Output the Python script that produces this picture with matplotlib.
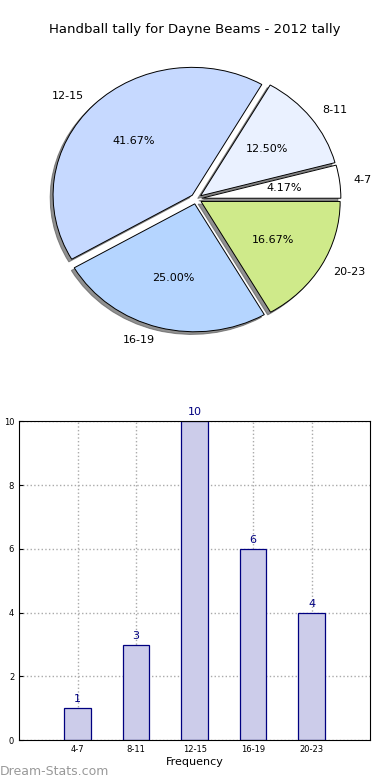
import matplotlib
matplotlib.use("Agg")
import matplotlib.pyplot as plt
import numpy as np

categories = ["4-7", "8-11", "12-15", "16-19", "20-23"]
values = [1, 3, 10, 6, 4]
pie_colors = ["#ffffff", "#eaf1ff", "#c6d9ff", "#b5d5ff", "#cfea8a"]
title = "Handball tally for Dayne Beams - 2012 tally"

fig = plt.figure(figsize=(3.9, 7.8), dpi=100)

# Pie
ax1 = fig.add_axes([0.057, 0.54, 0.892, 0.41])
wedges, texts, autotexts = ax1.pie(values, labels=categories, colors=pie_colors,
        explode=[0.04] * 5, autopct="%1.2f%%",
        shadow={"ox": -0.015, "oy": -0.015, "facecolor": "#555555",
                "edgecolor": "#555555", "alpha": 0.65},
        startangle=0, labeldistance=1.1, pctdistance=0.6,
        wedgeprops=dict(edgecolor="black", linewidth=0.7),
        textprops=dict(fontsize=8))
ax1.set_aspect("auto")
ax1.set_xlim(-1.25, 1.25)
ax1.set_ylim(-1.25, 1.25)
fig.text(0.5, 0.962, title, fontsize=9.5, ha="center", va="center")

# Bar
ax2 = fig.add_axes([0.049, 0.051, 0.9, 0.409])
x = np.arange(1, len(categories) + 1)
bars = ax2.bar(x, values, width=0.45, color="#ccccea", edgecolor="#000080", linewidth=0.9, zorder=2)
for xi, v in zip(x, values):
    ax2.text(xi, v + 0.12, str(v), ha="center", va="bottom", color="#000080", fontsize=8)
ax2.set_xlim(0, 6)
ax2.set_ylim(0, 10)
ax2.set_xticks(x)
ax2.set_xticklabels(categories, fontsize=6)
ax2.set_yticks([0, 2, 4, 6, 8, 10])
ax2.tick_params(axis="y", labelsize=6, direction="in", length=3)
ax2.tick_params(axis="x", direction="in", length=3)
ax2.grid(True, linestyle=":", color="#aaaaaa", linewidth=1, zorder=0)
ax2.set_xlabel("Frequency", fontsize=8, labelpad=2)
ax2.set_ylabel("Handball Tally", fontsize=8, labelpad=4)

fig.text(0.0, 0.003, "Dream-Stats.com", fontsize=9, color="#999999", ha="left", va="bottom")

fig.savefig("out.png", dpi=100)
